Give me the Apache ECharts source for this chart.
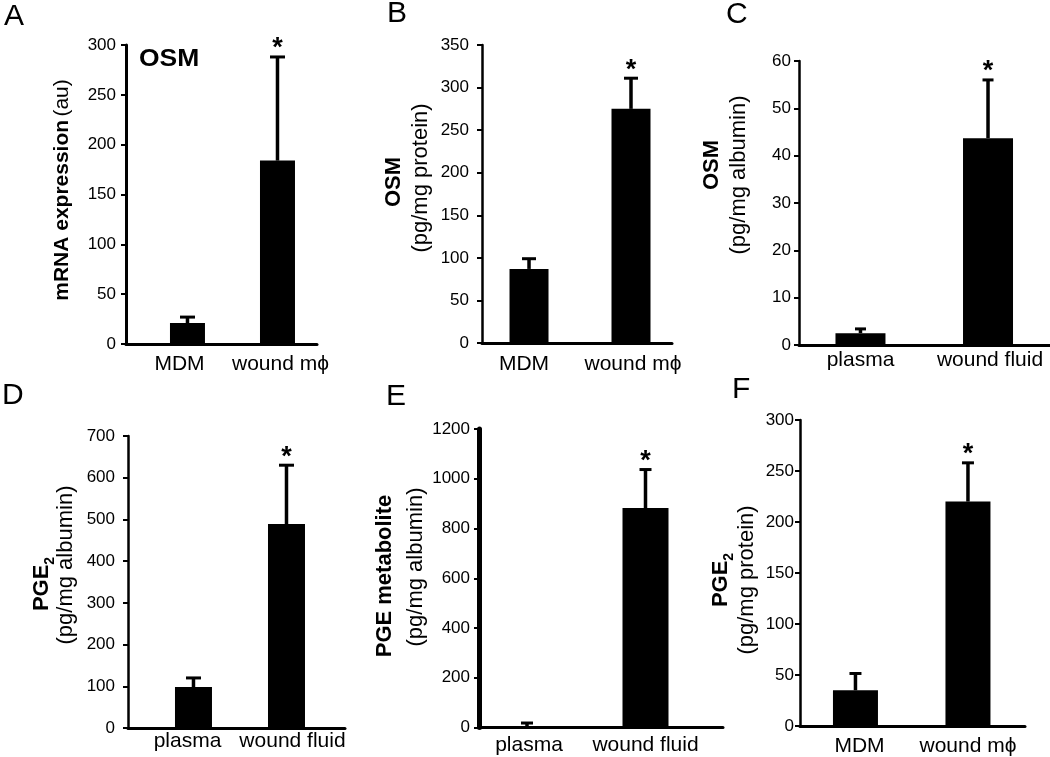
<!DOCTYPE html>
<html><head><meta charset="utf-8">
<script src="https://cdn.jsdelivr.net/npm/echarts@6/dist/echarts.min.js"></script>
<style>html,body{margin:0;padding:0;background:#fff}#c{width:1050px;height:757px}</style>
</head><body><div id="c"></div>
<script>
// ---- data ----
const catsCells = ['MDM', 'wound m\u03D5'];
const catsFluid = ['plasma', 'wound fluid'];

const meanA = [21, 184];   const errA = [6, 104];    // OSM mRNA (au)
const meanB = [87, 275];   const errB = [12, 36];    // OSM pg/mg protein
const meanC = [2.5, 43.7]; const errC = [0.9, 12.3]; // OSM pg/mg albumin
const meanD = [98, 489];   const errD = [22, 141];   // PGE2 pg/mg albumin
const meanE = [4, 882];    const errE = [14, 155];   // PGE metabolite pg/mg albumin
const meanF = [35, 220];   const errF = [16.5, 38];  // PGE2 pg/mg protein

const sigA = [0, 1], sigB = [0, 1], sigC = [0, 1], sigD = [0, 1], sigE = [0, 1], sigF = [0, 1];

const yMaxes = [300, 350, 60, 700, 1200, 300];
const ySteps = [50, 50, 10, 100, 200, 50];

// ---- layout (positions / sizes / styles only) ----
const layout = [
  {left:126, top:45,  width:191, height:299,   xMin:-0.683, xMax:1.439, barW:35, cap:15, yM:10, xM:10, yLine:3,   shift:[-8, 3]},
  {left:482, top:45,  width:190, height:298,   xMin:-0.461, xMax:1.402, barW:39, cap:14, yM:13, xM:11, yLine:2.5, shift:[-5, 2]},
  {left:799, top:61,  width:251, height:284,   xMin:-0.482, xMax:1.486, barW:50, cap:11, yM:8,  xM:5,  yLine:2.5, shift:[0, 2]},
  {left:128, top:436, width:217, height:292,   xMin:-0.704, xMax:1.629, barW:37, cap:15, yM:13, xM:3,  yLine:2.5, shift:[-6, 6]},
  {left:479, top:429, width:244, height:298.5, xMin:-0.405, xMax:1.654, barW:46, cap:12, yM:9,  xM:7,  yLine:5,   shift:[2, 0]},
  {left:800, top:420, width:225, height:308.5, xMin:-0.493, xMax:1.507, barW:45, cap:12, yM:6,  xM:10, yLine:2.5, shift:[4, 0]}
];

const panels = [
  {cats: catsCells, mean: meanA, err: errA, sig: sigA},
  {cats: catsCells, mean: meanB, err: errB, sig: sigB},
  {cats: catsFluid, mean: meanC, err: errC, sig: sigC},
  {cats: catsFluid, mean: meanD, err: errD, sig: sigD},
  {cats: catsFluid, mean: meanE, err: errE, sig: sigE},
  {cats: catsCells, mean: meanF, err: errF, sig: sigF}
];

const FONT = '"Liberation Sans", Arial, Helvetica, sans-serif';

const grid = [], xAxis = [], yAxis = [], series = [];
panels.forEach((p, i) => {
  const L = layout[i];
  const rich = {};
  L.shift.forEach((s, k) => {
    rich['k' + k] = {fontSize: 21, fontFamily: FONT, color: '#000',
      padding: [0, s < 0 ? -2 * s : 0, 0, s > 0 ? 2 * s : 0]};
  });
  grid.push({left: L.left, top: L.top, width: L.width, height: L.height, containLabel: false});
  xAxis.push({
    type: 'value', gridIndex: i, min: L.xMin, max: L.xMax,
    axisLine: {show: true, onZero: false, lineStyle: {color: '#000', width: 3}},
    axisTick: {show: false}, splitLine: {show: false},
    axisLabel: {
      customValues: [0, 1],
      formatter: v => { const k = Math.round(v); return '{k' + k + '|' + p.cats[k] + '}'; },
      rich: rich,
      color: '#000', fontSize: 21, fontFamily: FONT, margin: L.xM
    }
  });
  yAxis.push({
    type: 'value', gridIndex: i, min: 0, max: yMaxes[i], interval: ySteps[i],
    axisLine: {show: true, onZero: false, lineStyle: {color: '#000', width: L.yLine}},
    axisTick: {show: true, length: 5, lineStyle: {color: '#000', width: 2}},
    splitLine: {show: false},
    axisLabel: {color: '#000', fontSize: 17, fontFamily: FONT, margin: L.yM, formatter: v => String(v)}
  });
  series.push({
    type: 'bar', xAxisIndex: i, yAxisIndex: i, barWidth: L.barW,
    itemStyle: {color: '#000'}, silent: true,
    data: p.cats.map((c, k) => [k, p.mean[k]])
  });
  series.push({
    type: 'custom', xAxisIndex: i, yAxisIndex: i, clip: false, silent: true,
    encode: {x: 0, y: 1},
    data: p.cats.map((c, k) => [k, p.mean[k], p.err[k], p.sig[k]]),
    renderItem: (params, api) => {
      const x = api.value(0), m = api.value(1), e = api.value(2), s = api.value(3);
      const b = api.coord([x, m]);
      const t = api.coord([x, m + e]);
      const ch = [
        {type: 'line', shape: {x1: b[0], y1: b[1], x2: t[0], y2: t[1]}, style: {stroke: '#000', lineWidth: 3.5}},
        {type: 'line', shape: {x1: t[0] - L.cap / 2, y1: t[1], x2: t[0] + L.cap / 2, y2: t[1]}, style: {stroke: '#000', lineWidth: 3}}
      ];
      if (s) ch.push({type: 'text', style: {text: '*', x: t[0], y: t[1] - 8, align: 'center', verticalAlign: 'middle',
        fontSize: 27, fontWeight: 'bold', fontFamily: FONT, fill: '#000'}});
      return {type: 'group', children: ch};
    }
  });
});

// ---- text annotations ----
const R = Math.PI / 2;
function vtext(x, y, text, weight, size) {
  return {type: 'text', x: x, y: y, rotation: R, silent: true,
    style: {text: text, align: 'center', verticalAlign: 'middle', fontSize: size || 22, fontWeight: weight,
      fontFamily: FONT, fill: '#000'}};
}
function subText(x, y) {
  return {type: 'text', x: x, y: y, rotation: R, silent: true,
    style: {text: '{b|PGE}{s|2}', align: 'center', verticalAlign: 'middle', fontFamily: FONT, fill: '#000',
      rich: {
        b: {fontSize: 22, fontWeight: 'bold', fontFamily: FONT, fill: '#000', lineHeight: 30, verticalAlign: 'middle'},
        s: {fontSize: 14, fontWeight: 'bold', fontFamily: FONT, fill: '#000', lineHeight: 14, verticalAlign: 'bottom'}
      }}};
}
function letter(x, y, t) {
  return {type: 'text', x: x, y: y, silent: true,
    style: {text: t, align: 'left', verticalAlign: 'middle', fontSize: 30, fontFamily: FONT, fill: '#000'}};
}

const graphic = [
  letter(4, 17, 'A'), letter(387, 14, 'B'), letter(726, 15, 'C'),
  letter(2, 396, 'D'), letter(386, 397, 'E'), letter(732, 390, 'F'),
  {type: 'text', x: 139, y: 60, scaleX: 1.15, silent: true,
    style: {text: 'OSM', align: 'left', verticalAlign: 'middle', fontSize: 23, fontWeight: 'bold', fontFamily: FONT, fill: '#000'}},
  {type: 'text', x: 62, y: 190, rotation: R, silent: true,
    style: {text: '{b|mRNA expression} {n|(au)}', align: 'center', verticalAlign: 'middle', fontFamily: FONT, fill: '#000',
      rich: {b: {fontSize: 21, fontWeight: 'bold', fontFamily: FONT, fill: '#000'},
             n: {fontSize: 21, fontFamily: FONT, fill: '#000'}}}},
  vtext(394, 182, 'OSM', 'bold'), vtext(421, 178, '(pg/mg protein)', 'normal'),
  vtext(712, 165, 'OSM', 'bold'), vtext(739, 175, '(pg/mg albumin)', 'normal'),
  subText(42, 584), vtext(66, 565, '(pg/mg albumin)', 'normal'),
  vtext(385, 576, 'PGE metabolite', 'bold'), vtext(416, 567, '(pg/mg albumin)', 'normal'),
  subText(721, 580), vtext(747, 580, '(pg/mg protein)', 'normal')
];

const chart = echarts.init(document.getElementById('c'));
chart.setOption({
  animation: false,
  backgroundColor: '#fff',
  textStyle: {fontFamily: FONT},
  grid, xAxis, yAxis, series, graphic
});
</script></body></html>
